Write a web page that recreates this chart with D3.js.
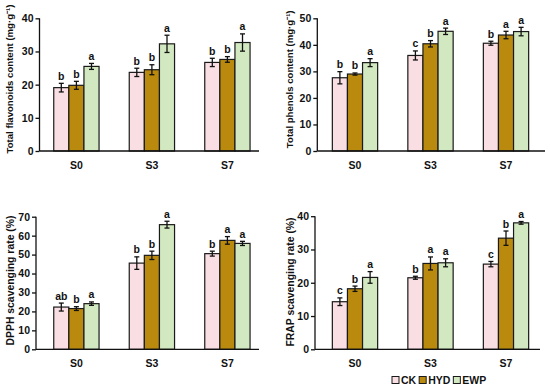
<!DOCTYPE html>
<html>
<head>
<meta charset="utf-8">
<script src="https://cdn.jsdelivr.net/npm/d3@7"></script>
<style>
  body { margin: 0; background: #fff; }
  svg { display: block; }
  text { font-family: "Liberation Sans", Arial, sans-serif; font-weight: bold; fill: #111; }
</style>
</head>
<body>
<svg id="chart" width="550" height="389"></svg>
<script>
var stages = ["S0", "S3", "S7"];
var treatments = ["CK", "HYD", "EWP"];
var colors = ["#f9dfe4", "#b98a0e", "#d2e8c1"];

// values per treatment [S0, S3, S7], with errors and letters
var flavMean = [[19.1, 23.7, 26.7], [19.8, 24.5, 27.6], [25.5, 32.3, 32.7]];
var flavErr = [[1.3, 1.25, 1.25], [1.2, 1.5, 0.85], [0.9, 2.6, 2.6]];
var flavLetters = [["b", "b", "b"], ["b", "b", "b"], ["a", "a", "a"]];

var phenMean = [[27.6, 36.0, 40.6], [29.0, 40.4, 43.7], [33.3, 45.1, 45.0]];
var phenErr = [[2.3, 1.7, 0.75], [0.4, 1.2, 1.4], [1.5, 1.2, 1.6]];
var phenLetters = [["b", "c", "b"], ["b", "b", "a"], ["a", "a", "a"]];

var dpphMean = [[22.3, 45.5, 50.5], [21.5, 49.6, 57.5], [24.1, 65.8, 55.9]];
var dpphErr = [[2.1, 3.3, 1.3], [1.0, 2.2, 2.0], [0.9, 1.8, 1.1]];
var dpphLetters = [["ab", "b", "b"], ["b", "b", "a"], ["a", "a", "a"]];

var frapMean = [[14.3, 21.5, 25.6], [18.2, 25.8, 33.4], [21.6, 26.0, 38.0]];
var frapErr = [[1.15, 0.45, 0.8], [0.8, 1.95, 2.15], [1.75, 1.2, 0.4]];
var frapLetters = [["c", "b", "c"], ["b", "a", "b"], ["a", "a", "a"]];

var panels = [
  { label: "Total flavonoids content (mg·g⁻¹)", mean: flavMean, err: flavErr, letters: flavLetters,
    ymax: 40, axisX: 39.5, bandX: 39.4, xEnd: 259, top: 18.3, bottom: 151, labelX: 10, labelY: 79, labelSize: 9.6 },
  { label: "Total phenols content (mg·g⁻¹)", mean: phenMean, err: phenErr, letters: phenLetters,
    ymax: 50, axisX: 317.3, bandX: 318, xEnd: 545, top: 18.3, bottom: 151, labelX: 290, labelY: 79.3, labelSize: 9.6 },
  { label: "DPPH scavenging rate (%)", mean: dpphMean, err: dpphErr, letters: dpphLetters,
    ymax: 70, axisX: 36, bandX: 39.4, xEnd: 259, top: 216.7, bottom: 349.3, labelX: 10, labelY: 280.5, labelSize: 10.4 },
  { label: "FRAP scavenging rate (%)", mean: frapMean, err: frapErr, letters: frapLetters,
    ymax: 40, axisX: 315, bandX: 318, xEnd: 540, top: 216.2, bottom: 349.3, labelX: 290, labelY: 282, labelSize: 10.4 }
];

var svg = d3.select("#chart");

panels.forEach(function (p) {
  var g = svg.append("g");

  var x = d3.scaleBand()
    .domain(stages)
    .range([p.bandX, p.bandX + 225])
    .paddingInner(0.4)
    .paddingOuter(0.19);

  var xs = d3.scaleBand()
    .domain(treatments)
    .range([0, x.bandwidth()]);

  var y = d3.scaleLinear()
    .domain([0, p.ymax])
    .range([p.bottom, p.top]);

  // flat rows for bars
  var rows = [];
  treatments.forEach(function (t, ti) {
    stages.forEach(function (s, si) {
      rows.push({ t: t, ti: ti, s: s, v: p.mean[ti][si], e: p.err[ti][si], l: p.letters[ti][si] });
    });
  });

  g.selectAll("rect.bar")
    .data(rows)
    .enter()
    .append("rect")
    .attr("class", "bar")
    .attr("x", function (d) { return x(d.s) + xs(d.t); })
    .attr("y", function (d) { return y(d.v); })
    .attr("width", xs.bandwidth())
    .attr("height", function (d) { return y(0) - y(d.v); })
    .attr("fill", function (d) { return colors[d.ti]; })
    .attr("stroke", "#1a1a1a")
    .attr("stroke-width", 1.2);

  // error bars
  var eb = g.selectAll("g.err")
    .data(rows)
    .enter()
    .append("g")
    .attr("class", "err")
    .attr("stroke", "#111")
    .attr("stroke-width", 1.3);
  eb.append("line")
    .attr("x1", function (d) { return x(d.s) + xs(d.t) + xs.bandwidth() / 2; })
    .attr("x2", function (d) { return x(d.s) + xs(d.t) + xs.bandwidth() / 2; })
    .attr("y1", function (d) { return y(d.v - d.e); })
    .attr("y2", function (d) { return y(d.v + d.e); });
  [-1, 1].forEach(function (sgn) {
    eb.append("line")
      .attr("x1", function (d) { return x(d.s) + xs(d.t) + xs.bandwidth() / 2 - 2.5; })
      .attr("x2", function (d) { return x(d.s) + xs(d.t) + xs.bandwidth() / 2 + 2.5; })
      .attr("y1", function (d) { return y(d.v + sgn * d.e); })
      .attr("y2", function (d) { return y(d.v + sgn * d.e); });
  });

  // significance letters
  g.selectAll("text.sig")
    .data(rows)
    .enter()
    .append("text")
    .attr("class", "sig")
    .attr("x", function (d) { return x(d.s) + xs(d.t) + xs.bandwidth() / 2; })
    .attr("y", function (d) { return y(d.v + d.e) - 3.5; })
    .attr("text-anchor", "middle")
    .style("font-size", "10.5px")
    .text(function (d) { return d.l; });

  // y axis
  var yAxis = g.append("g")
    .attr("transform", "translate(" + p.axisX + ",0)")
    .call(d3.axisLeft(y).ticks(p.ymax / 10).tickSize(4).tickPadding(2));
  yAxis.select(".domain").attr("d", "M0," + p.top + "V" + p.bottom);
  yAxis.selectAll("path, line").attr("stroke", "#111").attr("stroke-width", 1.3);
  yAxis.selectAll("text")
    .style("font-family", "'Liberation Sans', Arial, sans-serif")
    .style("font-weight", "bold")
    .style("font-size", "10.5px")
    .attr("fill", "#111");

  // x axis line
  g.append("line")
    .attr("x1", p.axisX)
    .attr("x2", p.xEnd)
    .attr("y1", p.bottom)
    .attr("y2", p.bottom)
    .attr("stroke", "#111")
    .attr("stroke-width", 1.3);

  g.selectAll("text.xl")
    .data(stages)
    .enter()
    .append("text")
    .attr("class", "xl")
    .attr("x", function (d) { return x(d) + x.bandwidth() / 2; })
    .attr("y", p.bottom + 17.5)
    .attr("text-anchor", "middle")
    .style("font-size", "10.5px")
    .text(function (d) { return d; });

  // y label
  g.append("text")
    .attr("transform", "translate(" + p.labelX + "," + p.labelY + ") rotate(-90)")
    .attr("text-anchor", "middle")
    .attr("dy", "0.35em")
    .style("font-size", p.labelSize + "px")
    .text(p.label);
});

// legend
var legend = svg.append("g").attr("transform", "translate(392,380)");
var lx = 0;
treatments.forEach(function (t, i) {
  var item = legend.append("g").attr("transform", "translate(" + lx + ",0)");
  item.append("rect")
    .attr("x", 0)
    .attr("y", -3.5)
    .attr("width", 7)
    .attr("height", 7)
    .attr("fill", colors[i])
    .attr("stroke", "#1a1a1a")
    .attr("stroke-width", 1);
  var txt = item.append("text")
    .attr("x", 9)
    .attr("y", 3.8)
    .style("font-size", "10.5px")
    .text(t);
  lx += 9 + txt.node().getComputedTextLength() + 3;
});
</script>
</body>
</html>
